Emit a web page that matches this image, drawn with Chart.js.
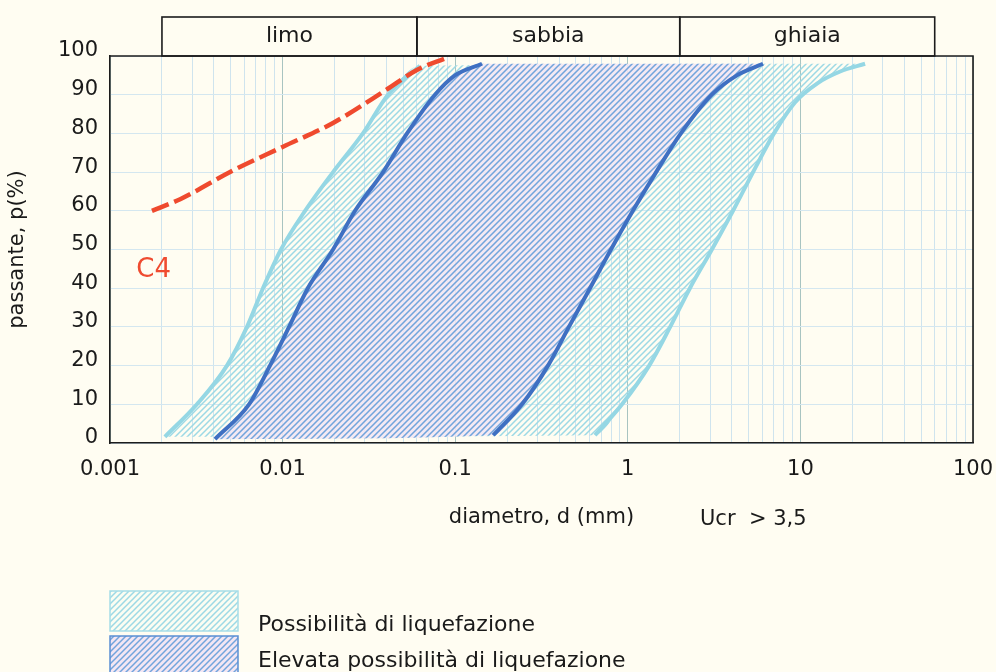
<!DOCTYPE html>
<html>
<head>
<meta charset="utf-8">
<script src="https://cdn.jsdelivr.net/npm/chart.js@4.4.1/dist/chart.umd.min.js"></script>
<style>
  html, body { margin: 0; padding: 0; background: #fffdf2; }
  #wrap { width: 996px; height: 672px; position: relative; }
</style>
</head>
<body>
<div id="wrap"><canvas id="fuso"></canvas></div>
<script>
// fasce granulometriche (intestazione)
const zoneNames = ['limo', 'sabbia', 'ghiaia'];
const zoneLimits = [0.002, 0.06, 2, 60];

// asse x logaritmico
const xDecades = [0.001, 0.01, 0.1, 1, 10, 100];
const xTickLabels = ['0.001', '0.01', '0.1', '1', '10', '100'];
const minorSteps = [2, 3, 4, 5, 6, 7, 8, 9];

// Possibilita' di liquefazione: limite sinistro / destro (d in mm, p in %)
const possSxD = [0.00208, 0.00319, 0.00476, 0.00622, 0.0077, 0.00979, 0.0135, 0.0196, 0.0292, 0.0408, 0.0625];
const possSxP = [1.6, 10, 20, 30, 40, 50, 60, 70, 80, 90, 97.5];
const possDxD = [0.646, 0.926, 1.33, 1.76, 2.29, 3.07, 4.07, 5.32, 7.03, 9.3, 12.6, 17, 23.7];
const possDxP = [2, 10, 20, 30, 40, 50, 60, 70, 80, 88, 93, 96, 98];

// Elevata possibilita' di liquefazione
const elevSxD = [0.00406, 0.00639, 0.00845, 0.0109, 0.014, 0.0196, 0.0263, 0.0382, 0.0526, 0.0764, 0.0997, 0.143];
const elevSxP = [1, 10, 20, 30, 40, 50, 60, 70, 80, 90, 95, 98];
const elevDxD = [0.166, 0.244, 0.345, 0.456, 0.604, 0.799, 1.07, 1.46, 2.03, 3.07, 4.29, 6.07];
const elevDxP = [2, 10, 20, 30, 40, 50, 60, 70, 80, 90, 95, 98];

// curva C4
const c4D = [0.00175, 0.00255, 0.0052, 0.010, 0.0196, 0.040, 0.060, 0.089];
const c4P = [60, 63, 70.5, 76.5, 82.7, 91.3, 96.4, 99.5];

const FONT = '"DejaVu Sans", sans-serif';

const punti = (d, p) => d.map((v, i) => ({ x: v, y: p[i] }));
const possSx = punti(possSxD, possSxP);
const possDx = punti(possDxD, possDxP);
const elevSx = punti(elevSxD, elevSxP);
const elevDx = punti(elevDxD, elevDxP);
const c4 = punti(c4D, c4P);

// contorno superiore (sx + chiusura in alto) e inferiore (base + dx)
const bordoSup = (sx, dx) => sx.concat([dx[dx.length - 1]]);
const bordoInf = (sx, dx) => [sx[0]].concat(dx);

const xTickValues = [];
xDecades.slice(0, -1).forEach(dec => {
  xTickValues.push(dec);
  minorSteps.forEach(m => xTickValues.push(+(dec * m).toPrecision(3)));
});
xTickValues.push(xDecades[xDecades.length - 1]);

function tratteggio(bg, fg, lw) {
  const c = document.createElement('canvas');
  c.width = 6; c.height = 6;
  const g = c.getContext('2d');
  if (bg) { g.fillStyle = bg; g.fillRect(0, 0, 6, 6); }
  g.strokeStyle = fg;
  g.lineWidth = lw;
  g.beginPath();
  g.moveTo(-1, 7); g.lineTo(7, -1);
  g.moveTo(-1, 1); g.lineTo(1, -1);
  g.moveTo(5, 7); g.lineTo(7, 5);
  g.stroke();
  return g.createPattern(c, 'repeat');
}

const hatchCiano = tratteggio(null, '#9dd9e5', 1.5);
const hatchCianoLeg = tratteggio('#fbfdf2', '#9dd9e5', 1.5);
const hatchBlu = tratteggio('rgba(243,230,242,0.88)', '#72a4dc', 1.5);

const linea = (data, color, width, order) => ({
  data, borderColor: color, borderWidth: width, pointRadius: 0, fill: false,
  cubicInterpolationMode: 'monotone', order
});
const area = (data, pattern, fill, order) => ({
  data, borderColor: 'rgba(0,0,0,0)', borderWidth: 0, backgroundColor: pattern,
  pointRadius: 0, fill, cubicInterpolationMode: 'monotone', order
});

const decorazioni = {
  id: 'decorazioni',
  afterDatasetsDraw(chart) {
    const { ctx, chartArea: a, scales: { x, y } } = chart;
    ctx.save();
    ctx.strokeStyle = '#1c1c1c';
    ctx.lineWidth = 1.6;
    ctx.beginPath();
    ctx.moveTo(a.left, a.top);
    ctx.lineTo(a.right, a.top);
    ctx.lineTo(a.right, a.bottom);
    ctx.stroke();

    const yTop = a.top - 39;
    ctx.font = '22px ' + FONT;
    ctx.textAlign = 'center';
    ctx.textBaseline = 'alphabetic';
    ctx.fillStyle = '#1a1a1a';
    zoneNames.forEach((nome, i) => {
      const x0 = x.getPixelForValue(zoneLimits[i]);
      const x1 = x.getPixelForValue(zoneLimits[i + 1]);
      ctx.strokeRect(x0, yTop, x1 - x0, a.top - yTop);
      ctx.fillText(nome, (x0 + x1) / 2, yTop + 25);
    });

    // etichetta curva
    ctx.font = '26px ' + FONT;
    ctx.fillStyle = '#ef4b30';
    ctx.textAlign = 'left';
    ctx.fillText('C4', x.getPixelForValue(0.00142), y.getPixelForValue(43));

    ctx.font = '21px ' + FONT;
    ctx.fillStyle = '#1a1a1a';
    ctx.fillText('Ucr  > 3,5', 700, 525);

    // legenda
    ctx.fillStyle = hatchCianoLeg;
    ctx.fillRect(110, 591, 128, 40);
    ctx.strokeStyle = '#a6dde8';
    ctx.lineWidth = 1.5;
    ctx.strokeRect(110, 591, 128, 40);
    ctx.fillStyle = '#f3e6f2';
    ctx.fillRect(110, 636, 128, 40);
    ctx.fillStyle = hatchBlu;
    ctx.fillRect(110, 636, 128, 40);
    ctx.strokeStyle = '#5a8fd3';
    ctx.strokeRect(110, 636, 128, 40);

    ctx.font = '22px ' + FONT;
    ctx.fillStyle = '#1a1a1a';
    ctx.fillText('Possibilità di liquefazione', 258, 631);
    ctx.fillText('Elevata possibilità di liquefazione', 258, 667);
    ctx.restore();
  }
};

new Chart(document.getElementById('fuso'), {
  type: 'line',
  data: {
    datasets: [
      Object.assign(linea(c4, '#ef4a2e', 4.5, 0), { label: 'C4', borderDash: [18, 6] }),
      linea(elevSx, '#3f70c2', 4, 1),
      linea(elevDx, '#3f70c2', 4, 1),
      linea(possSx, '#95d7e4', 4, 2),
      linea(possDx, '#95d7e4', 4, 2),
      area(bordoSup(elevSx, elevDx), hatchBlu, '+1', 3),
      area(bordoInf(elevSx, elevDx), hatchBlu, false, 3),
      area(bordoSup(possSx, possDx), hatchCiano, '+1', 4),
      area(bordoInf(possSx, possDx), hatchCiano, false, 4)
    ]
  },
  options: {
    responsive: true,
    maintainAspectRatio: false,
    animation: false,
    layout: { padding: { top: 56, right: 23, left: 0, bottom: 0 } },
    plugins: {
      legend: { display: false },
      tooltip: { enabled: false }
    },
    scales: {
      x: {
        type: 'logarithmic',
        min: 0.001,
        max: 100,
        afterBuildTicks: (scale) => { scale.ticks = xTickValues.map(v => ({ value: v })); },
        afterFit: (scale) => {
          scale.height = 229;
          scale.paddingLeft = 0;
          scale.paddingRight = 0;
        },
        grid: {
          drawTicks: false,
          color: (c) => (c.tick && xDecades.includes(c.tick.value)) ? '#a8c4c1' : '#cfe4ee'
        },
        border: { color: '#1c1c1c', width: 1.6 },
        ticks: {
          autoSkip: false,
          maxRotation: 0,
          minRotation: 0,
          padding: 14,
          color: '#1a1a1a',
          font: { family: FONT, size: 21 },
          callback: (v) => {
            const i = xDecades.indexOf(v);
            return i >= 0 ? xTickLabels[i] : '';
          }
        },
        title: {
          display: true,
          text: 'diametro, d (mm)',
          color: '#1a1a1a',
          font: { family: FONT, size: 21 },
          padding: { top: 0, bottom: 142 }
        }
      },
      y: {
        min: 0,
        max: 100,
        afterFit: (scale) => { scale.width = 110; },
        grid: { drawTicks: false, color: '#d4e7f0' },
        border: { color: '#1c1c1c', width: 1.6 },
        ticks: {
          stepSize: 10,
          padding: 12,
          labelOffset: -5,
          color: '#1a1a1a',
          font: { family: FONT, size: 21 }
        },
        title: {
          display: true,
          text: 'passante, p(%)',
          color: '#1a1a1a',
          font: { family: FONT, size: 21 },
          padding: { top: 5, bottom: 0 }
        }
      }
    }
  },
  plugins: [decorazioni]
});
</script>
</body>
</html>
